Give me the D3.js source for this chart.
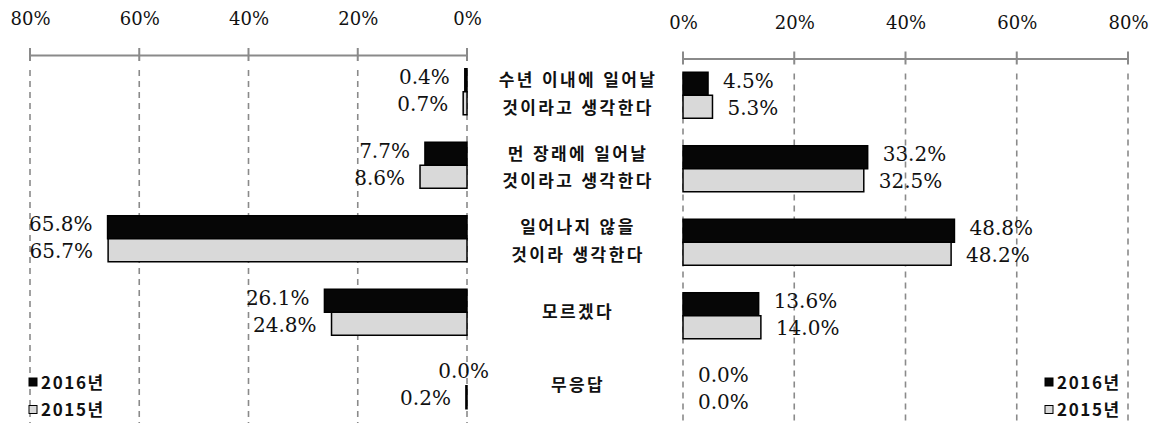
<!DOCTYPE html>
<html lang="ko">
<head>
<meta charset="utf-8">
<script src="https://cdn.jsdelivr.net/npm/d3@7"></script>
<style>
  html, body { margin: 0; padding: 0; background: #fff; }
  svg { display: block; }
  .tick-label { font-family: "DejaVu Serif", serif; font-size: 18px; fill: #111; }
  .val { font-family: "DejaVu Serif", serif; font-size: 20px; fill: #111; }
  .cat { font-family: "Noto Sans CJK KR", sans-serif; font-weight: bold; font-size: 17px; letter-spacing: 2.4px; fill: #111; }
  .leg { font-family: "Noto Sans CJK KR", sans-serif; font-weight: bold; font-size: 17px; letter-spacing: 1.6px; fill: #111; }
</style>
</head>
<body>
<svg id="chart" width="1157" height="423"></svg>
<script>
// Survey answer categories (each label may wrap to two lines)
const categories = [
  ["수년 이내에 일어날", "것이라고 생각한다"],
  ["먼 장래에 일어날", "것이라고 생각한다"],
  ["일어나지 않을", "것이라 생각한다"],
  ["모르겠다"],
  ["무응답"]
];
const years = ["2016년", "2015년"];

// Left panel values (%)
const left2016 = [0.4, 7.7, 65.8, 26.1, 0.0];
const left2015 = [0.7, 8.6, 65.7, 24.8, 0.2];
// Right panel values (%)
const right2016 = [4.5, 33.2, 48.8, 13.6, 0.0];
const right2015 = [5.3, 32.5, 48.2, 14.0, 0.0];

const tickValues = [0, 20, 40, 60, 80];

const W = 1157, H = 423;
const svg = d3.select("#chart");

const fillColors = ["#060606", "#d9d9d9"];
const gridColor = "#8a8a8a";

function drawPanel(opts) {
  const { x, axisY, s2016, s2015, side } = opts;
  const rowIdx = d3.range(categories.length);
  const y = d3.scaleBand().domain(rowIdx).range([axisY, axisY + 5 * 73.5])
    .paddingInner(0.374).paddingOuter(0.187);
  const sub = d3.scaleBand().domain([0, 1]).range([0, y.bandwidth()]);

  const g = svg.append("g");

  // dashed vertical gridlines
  g.selectAll("line.grid").data(tickValues).join("line")
    .attr("x1", d => x(d)).attr("x2", d => x(d))
    .attr("y1", axisY + 15).attr("y2", H)
    .attr("stroke", gridColor).attr("stroke-width", 1.6)
    .attr("stroke-dasharray", "6,5");

  // axis line with tick marks
  const axis = d3.axisTop(x).tickValues(tickValues).tickSize(0).tickFormat(d => d + "%");
  const ag = g.append("g").attr("transform", `translate(0,${axisY})`).call(axis);
  ag.select(".domain").attr("stroke", gridColor).attr("stroke-width", 2);
  ag.selectAll(".tick text").attr("class", "tick-label").attr("font-family", null).attr("font-size", null)
    .attr("y", -36).attr("dy", "0.35em").attr("fill", "#111");
  g.selectAll("line.tk").data(tickValues).join("line")
    .attr("x1", d => x(d)).attr("x2", d => x(d))
    .attr("y1", axisY - 7).attr("y2", axisY + 6)
    .attr("stroke", gridColor).attr("stroke-width", 2);

  const series = [s2016, s2015];
  series.forEach((vals, si) => {
    const rows = vals.map((v, i) => ({ v, i }));
    g.selectAll(null).data(rows).join("rect")
      .attr("x", d => Math.min(x(0), x(d.v)))
      .attr("width", d => Math.abs(x(d.v) - x(0)))
      .attr("y", d => y(d.i) + sub(si))
      .attr("height", sub.bandwidth())
      .attr("fill", fillColors[si])
      .attr("stroke", "#000")
      .attr("stroke-width", d => d.v > 0 ? 1.5 : 0);

    g.selectAll(null).data(rows).join("text")
      .attr("class", "val")
      .attr("text-anchor", side === "left" ? "end" : "start")
      .attr("x", d => {
        if (side === "left") return d.v > 0 ? x(d.v) - 15 : x(0) + 22;
        return x(d.v) + 15;
      })
      .attr("y", d => y(d.i) + sub(si) + sub.bandwidth() / 2 + (si === 0 ? -3 : 1))
      .attr("dy", "0.35em")
      .text(d => d.v.toFixed(1) + "%");
  });
  return y;
}

const xLeft = d3.scaleLinear().domain([80, 0]).range([30, 467]);
const xRight = d3.scaleLinear().domain([0, 80]).range([683, 1128]);

drawPanel({ x: xLeft, axisY: 55, s2016: left2016, s2015: left2015, side: "left" });
const yR = drawPanel({ x: xRight, axisY: 58.5, s2016: right2016, s2015: right2015, side: "right" });

// category labels in the middle column
const catG = svg.append("g");
categories.forEach((lines, i) => {
  const cy = yR(i) + yR.bandwidth() / 2;
  const offs = lines.length === 2 ? [-15, 12.5] : [-4];
  lines.forEach((t, k) => {
    catG.append("text").attr("class", "cat")
      .attr("x", 578).attr("y", cy + offs[k]).attr("dy", "0.35em")
      .attr("text-anchor", "middle").text(t);
  });
});

// legends (one per panel)
function legend(x0) {
  const lg = svg.append("g");
  years.forEach((yr, i) => {
    const cy = 383 + i * 27.5;
    lg.append("rect").attr("x", x0).attr("y", cy - 5).attr("width", 8).attr("height", 8)
      .attr("fill", fillColors[i]).attr("stroke", "#000").attr("stroke-width", 1);
    lg.append("text").attr("class", "leg").attr("x", x0 + 12).attr("y", cy).attr("dy", "0.35em").text(yr);
  });
}
legend(29);
legend(1045);
</script>
</body>
</html>
